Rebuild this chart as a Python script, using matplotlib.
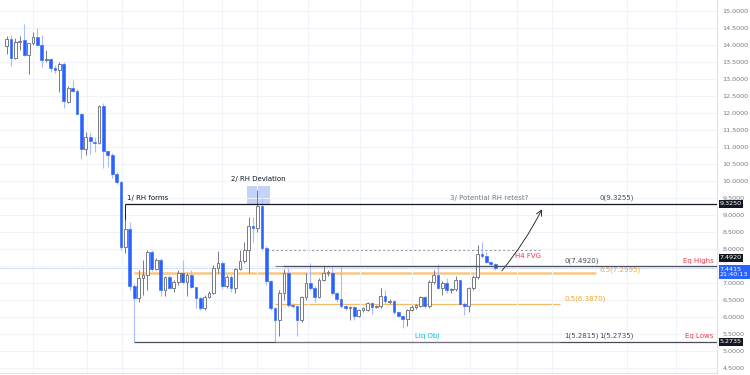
import matplotlib.pyplot as plt
from matplotlib.patches import Rectangle
from matplotlib.transforms import blended_transform_factory

# OHLC, one entry per candle
opens = [13.96, 14.17, 13.62, 14.08, 14.14, 13.70, 14.05, 14.22, 13.99, 13.55,
         13.58, 13.32, 13.25, 13.44, 12.32, 12.73, 12.64, 11.97, 10.94, 11.29,
         11.15, 11.12, 12.20, 10.88, 10.76, 10.21, 9.97, 8.06, 8.59, 6.92,
         6.56, 7.15, 7.24, 7.92, 7.42, 7.68, 6.80, 7.18, 6.86, 7.03,
         7.30, 7.03, 7.24, 6.89, 6.56, 6.27, 6.59, 6.71, 7.45, 7.59,
         6.92, 7.18, 6.86, 7.42, 7.65, 7.97, 8.68, 8.62, 9.27, 8.03,
         7.06, 6.27, 5.92, 6.71, 7.30, 6.36, 6.33, 5.92, 6.59, 7.01,
         6.86, 6.59, 7.09, 7.30, 7.30, 6.71, 6.53, 6.33, 6.27, 6.30,
         6.04, 6.21, 6.21, 6.42, 6.30, 6.33, 6.62, 6.45, 6.48, 6.15,
         6.04, 5.95, 6.21, 6.30, 6.33, 6.59, 6.33, 7.03, 7.24, 6.86,
         7.01, 6.80, 6.83, 7.09, 6.39, 6.33, 6.86, 7.18, 7.86, 7.80,
         7.62, 7.56]
highs = [14.26, 14.29, 14.20, 14.26, 14.61, 14.05, 14.37, 14.49, 14.30, 13.85,
         13.61, 13.40, 13.50, 13.50, 12.80, 12.97, 12.70, 12.00, 11.44, 11.40,
         11.29, 12.22, 12.29, 10.85, 10.82, 10.25, 10.00, 8.86, 8.80, 6.98,
         7.39, 7.68, 7.97, 7.97, 7.75, 7.75, 7.20, 7.24, 7.10, 7.39,
         7.68, 7.30, 7.39, 6.89, 6.59, 6.65, 6.77, 7.53, 7.95, 7.65,
         7.24, 7.24, 7.45, 7.97, 8.20, 8.94, 8.94, 9.73, 9.50, 8.10,
         7.10, 6.30, 6.80, 7.42, 7.45, 6.42, 6.36, 6.62, 7.30, 7.59,
         6.92, 7.15, 7.50, 7.39, 7.50, 6.75, 7.47, 6.36, 6.33, 6.33,
         6.24, 6.30, 6.45, 6.45, 6.36, 6.86, 6.80, 6.53, 6.50, 6.18,
         6.07, 6.25, 6.36, 6.40, 6.62, 6.62, 7.09, 7.39, 7.56, 7.05,
         7.15, 6.86, 7.20, 7.10, 6.45, 6.89, 7.24, 8.12, 8.21, 7.92,
         7.65, 7.60]
lows = [13.72, 13.38, 13.58, 13.85, 13.68, 13.14, 14.00, 13.95, 13.35, 13.50,
        13.20, 13.18, 12.61, 12.14, 12.29, 12.60, 11.97, 10.65, 10.76, 10.80,
        10.85, 11.10, 10.38, 10.40, 10.10, 9.90, 7.97, 7.88, 6.80, 5.2815,
        6.45, 6.65, 6.80, 7.35, 7.39, 6.62, 6.62, 6.82, 6.75, 6.95,
        6.98, 6.62, 6.86, 6.27, 6.21, 6.20, 6.56, 6.68, 7.30, 6.83,
        6.86, 6.75, 6.71, 7.39, 7.60, 7.30, 8.21, 8.50, 7.97, 6.95,
        6.21, 5.2735, 5.45, 6.50, 6.30, 6.27, 5.45, 5.86, 6.51, 6.80,
        6.45, 6.56, 7.05, 7.20, 6.65, 6.45, 6.27, 6.21, 5.92, 5.92,
        6.00, 6.15, 6.18, 6.10, 6.27, 6.27, 6.40, 6.40, 6.10, 6.00,
        5.68, 5.75, 6.18, 6.24, 6.30, 6.27, 6.27, 6.98, 6.83, 6.65,
        6.70, 6.70, 6.77, 6.36, 6.07, 6.15, 6.80, 7.12, 7.75, 7.58,
        7.50, 7.39]
closes = [14.17, 13.62, 14.08, 14.12, 13.70, 14.05, 14.22, 13.99, 13.55, 13.58,
          13.32, 13.25, 13.44, 12.35, 12.73, 12.64, 11.97, 10.94, 11.29, 11.17,
          11.12, 12.20, 10.88, 10.76, 10.21, 9.97, 8.06, 8.59, 6.92, 6.56,
          7.15, 7.24, 7.92, 7.42, 7.68, 6.80, 7.18, 6.86, 7.03, 7.30,
          7.03, 7.24, 6.89, 6.56, 6.27, 6.59, 6.71, 7.45, 7.59, 6.92,
          7.18, 6.86, 7.42, 7.65, 7.97, 8.68, 8.62, 9.27, 8.03, 7.06,
          6.27, 5.92, 6.71, 7.30, 6.36, 6.33, 5.92, 6.59, 7.01, 6.86,
          6.59, 7.09, 7.30, 7.33, 6.71, 6.53, 6.33, 6.27, 6.30, 6.04,
          6.21, 6.27, 6.42, 6.30, 6.33, 6.62, 6.48, 6.48, 6.15, 6.04,
          5.95, 6.21, 6.30, 6.36, 6.59, 6.33, 7.03, 7.24, 6.86, 7.01,
          6.80, 6.83, 7.09, 6.39, 6.33, 6.86, 7.18, 7.86, 7.80, 7.62,
          7.56, 7.4415]

price_ticks = [4.5, 5.0, 5.5, 6.0, 6.5, 7.0, 7.5, 8.0, 8.5, 9.0, 9.5,
               10.0, 10.5, 11.0, 11.5, 12.0, 12.5, 13.0, 13.5, 14.0, 14.5, 15.0]
hidden_ticks = [7.5]   # covered by the price markers in the original

# key levels
rh_high = 9.3255
rh_box = 9.3250
rh_mid = 7.2995
rh_low = 5.2735
eq_high = 7.4920
rng_mid = 6.3870
rng_low = 5.2815
fvg_level = 7.97
last_price = 7.4415

BLUE = "#2962ff"
BLUE_WICK = "#a8bcff"
GRAY = "#787b86"
DARK = "#131722"
ORANGE = "#f7b867"

fig = plt.figure(figsize=(7.5, 3.75), dpi=100)
ax = fig.add_axes([0, 2 / 375, 717 / 750, 373 / 375])
ax.set_xlim(-1.5, 161.4)
ax.set_ylim(4.363, 15.314)

# grid
ax.set_yticks(price_ticks)
ax.set_yticklabels(["" if p in hidden_ticks else "%.4f" % p for p in price_ticks])
ax.set_xticks([6, 18.3, 26.2, 40, 49, 57, 68.5, 80.3, 92, 105.3, 116, 124, 141, 152])
ax.set_xticklabels([])
ax.grid(True, color="#f0f3fa", lw=0.8, zorder=0)
ax.yaxis.tick_right()
ax.tick_params(axis="y", length=0, pad=4, labelsize=4.6, labelcolor=GRAY)
ax.tick_params(axis="x", length=0)
for s in ["top", "left"]:
    ax.spines[s].set_visible(False)
ax.spines["right"].set_color("#e0e3eb")
ax.spines["bottom"].set_color("#e0e3eb")

# candles
for i in range(len(opens)):
    o, h, l, c = opens[i], highs[i], lows[i], closes[i]
    up = c >= o
    bot = min(o, c)
    hgt = max(abs(c - o), 0.02)
    if up:
        ax.vlines(i, l, h, color=GRAY, lw=0.7, zorder=2)
        ax.bar(i, hgt, bottom=bot, width=0.62, facecolor="white",
               edgecolor=GRAY, lw=0.7, zorder=3)
    else:
        ax.vlines(i, l, h, color=BLUE_WICK, lw=0.8, zorder=2)
        ax.bar(i, hgt, bottom=bot, width=0.62, facecolor=BLUE,
               edgecolor=BLUE, lw=0.4, zorder=3)

# current price line
ax.axhline(last_price, color="#9db4f5", lw=0.6, ls=(0, (1, 1)), zorder=1)

# range high / low
ax.hlines(rh_high, 27, 161.4, color=DARK, lw=0.9, zorder=4)
ax.vlines(27, highs[27], rh_high, color=DARK, lw=0.7, zorder=4)
ax.text(27.3, rh_high + 0.08, "1/ RH forms", fontsize=5, color=DARK, va="bottom")
ax.hlines(rh_low, 29, 161.4, color="#4a4d57", lw=0.9, zorder=4)
ax.hlines(rh_mid, 29, 133.9, color=ORANGE, lw=1.8, alpha=0.8, zorder=1)
ax.text(134.6, rh_high + 0.08, "0(9.3255)", fontsize=5, color="#4a4d57", va="bottom")
ax.text(134.6, rh_mid + 0.09, "0.5(7.2995)", fontsize=5, color="#f5a623",
        va="center", zorder=5)
ax.text(134.6, rh_low + 0.08, "1(5.2735)", fontsize=5, color="#4a4d57", va="bottom")

# deviation box
ax.add_patch(Rectangle((54.6, rh_high), 5.3, 0.53, facecolor="#c3d4f8",
                       edgecolor="none", zorder=1))
ax.text(57.2, 9.98, "2/ RH Deviation", fontsize=5, color=DARK, ha="center", va="bottom")
ax.text(109.6, rh_high + 0.08, "3/ Potential RH retest?", fontsize=5,
        color=GRAY, ha="center", va="bottom")

# internal range fib
ax.hlines(eq_high, 61, 125.8, color=GRAY, lw=0.8, zorder=4)
ax.hlines(eq_high, 62.8, 161.4, color="#4a4d57", lw=0.9, zorder=4)
ax.hlines(rng_mid, 61, 125.8, color=ORANGE, lw=0.9, zorder=1)
ax.hlines(rng_low, 61, 125.8, color=GRAY, lw=0.6, zorder=4)
ax.text(126.7, eq_high + 0.07, "0(7.4920)", fontsize=5, color="#4a4d57", va="bottom")
ax.text(126.7, rng_mid + 0.07, "0.5(6.3870)", fontsize=5, color="#f5a623", va="bottom")
ax.text(126.7, rh_low + 0.08, "1(5.2815)", fontsize=5, color="#4a4d57", va="bottom")

# H4 FVG
ax.hlines(fvg_level, 59.2, 121.2, color="#9598a1", lw=0.8, ls=(0, (2, 2)), zorder=1)
ax.text(118.5, fvg_level - 0.08, "H4 FVG", fontsize=5, color="#f23645",
        ha="center", va="top")

# labels
ax.text(160.6, eq_high + 0.07, "Eq Highs", fontsize=5, color="#f23645", ha="right", va="bottom")
ax.text(160.6, rh_low + 0.08, "Eq Lows", fontsize=5, color="#f23645", ha="right", va="bottom")
ax.text(95.5, rh_low + 0.08, "Liq Obj", fontsize=5, color="#00bcd4", ha="center", va="bottom")

# projected path
ax.annotate("", xy=(121.9, 9.24), xytext=(112.1, 7.30),
            arrowprops=dict(arrowstyle="->", color=DARK, lw=0.6,
                            connectionstyle="arc3,rad=0.06"))

# price axis markers
tr = blended_transform_factory(ax.transAxes, ax.transData)
for val, y in [(rh_box, rh_high), (eq_high, 7.74), (rh_low, rh_low)]:
    ax.text(1.004, y, "%.4f" % val, transform=tr, fontsize=4.6, color="white",
            ha="left", va="center", clip_on=False, zorder=6,
            bbox=dict(boxstyle="square,pad=0.2", fc=DARK, ec="none"))
ax.text(1.004, 7.33, "%.4f\n21:40:13" % last_price, transform=tr, fontsize=4.6,
        color="white", ha="left", va="center", clip_on=False, zorder=6,
        linespacing=1.2, bbox=dict(boxstyle="square,pad=0.2", fc=BLUE, ec="none"))

fig.savefig("out.png", dpi=100)
